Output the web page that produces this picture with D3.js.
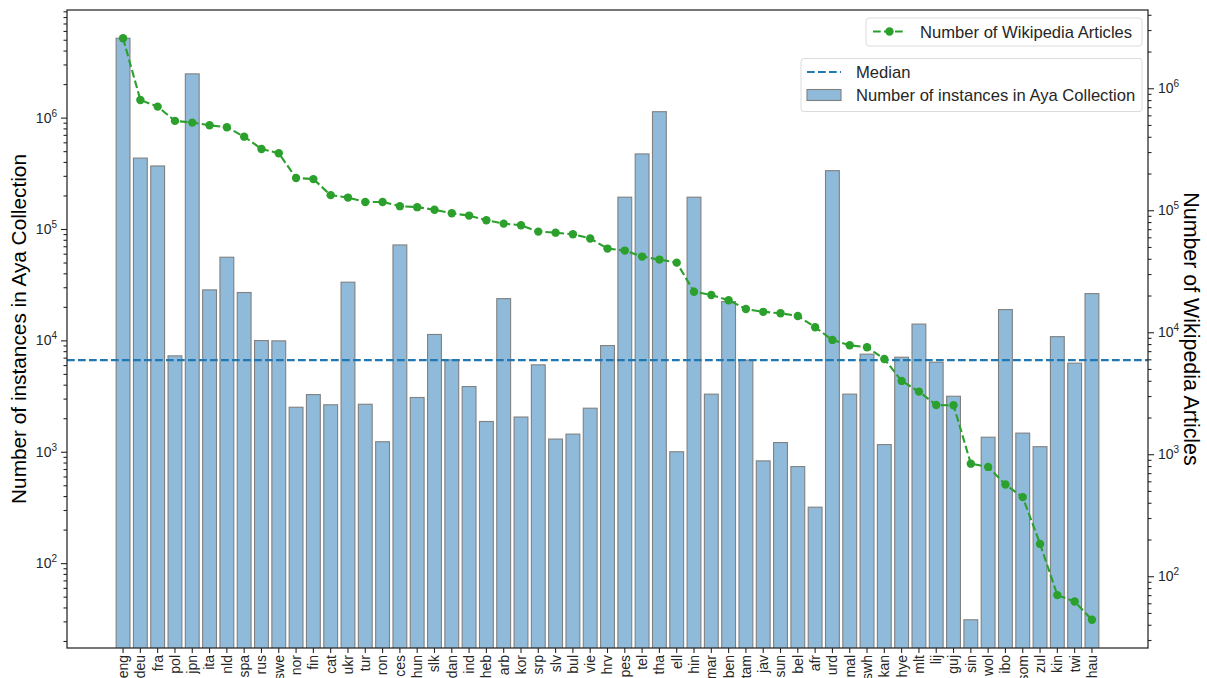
<!DOCTYPE html>
<html>
<head>
<meta charset="utf-8">
<script src="https://cdn.jsdelivr.net/npm/d3@7"></script>
<style>
  body { margin: 0; background: #fff; }
  svg { font-family: "Liberation Sans", Arial, sans-serif; }
</style>
</head>
<body>
<svg id="chart" width="1207" height="678"></svg>
<script>
// languages, in plot order
const langs = ["eng","deu","fra","pol","jpn","ita","nld","spa","rus","swe","nor","fin","cat","ukr","tur","ron",
  "ces","hun","slk","dan","ind","heb","arb","kor","srp","slv","bul","vie","hrv","pes","tel","tha","ell",
  "hin","mar","ben","tam","jav","sun","bel","afr","urd","mal","swh","kan","hye","mlt","lij","guj","sin",
  "wol","ibo","som","zul","kin","twi","hau"];

// number of instances in Aya Collection (left axis)
const ayaCounts = [5160000, 433000, 368000, 7260, 2470000, 28400, 55800, 26900, 9960, 9900, 2510, 3260, 2640, 33300, 2670, 1230,
  71900, 3070, 11300, 6680, 3850, 1870, 23700, 2050, 6030, 1300, 1440, 2460, 8980, 193000, 472000, 1130000, 1000,
  193000, 3290, 22300, 6650, 828, 1210, 736, 318, 334000, 3290, 7520, 1160, 7060, 14000, 6370, 3150, 31,
  1350, 18900, 1470, 1110, 10800, 6240, 26300];

// number of wikipedia articles (right axis)
const wikiArticles = [2570000, 802000, 707000, 540000, 523000, 497000, 479000, 401000, 318000, 293000, 184000, 180000, 133000, 127000, 117000, 117000,
  108000, 106000, 101000, 94400, 90400, 82800, 77700, 75300, 66800, 65500, 63600, 58700, 48500, 46700, 41700, 39400, 37200,
  21500, 20200, 18300, 15500, 14700, 14300, 13600, 11000, 8650, 7820, 7530, 6040, 3990, 3260, 2530, 2520, 837,
  787, 564, 445, 184, 70, 62, 44];

const majorTicks = [1e2, 1e3, 1e4, 1e5, 1e6];

const svg = d3.select("#chart");
const x0 = 67, x1 = 1148, y0 = 10, y1 = 648;
const step = (x1 - x0) / 62.48;

const x = d3.scaleBand()
  .domain(langs)
  .range([x0 + 2.74 * step, x0 + 2.74 * step + 57 * step])
  .paddingInner(0.2)
  .paddingOuter(0.1);

const yL = d3.scaleLog().domain([17.3, 9.25e6]).range([y1, y0]);
const yR = d3.scaleLog().domain([25.8, 4.38e6]).range([y1, y0]);

function minors(scale) {
  let [a, b] = scale.domain();
  let out = [];
  for (let e = Math.floor(Math.log10(a)); e <= Math.ceil(Math.log10(b)); e++) {
    for (let m = 2; m <= 9; m++) {
      let v = m * Math.pow(10, e);
      if (v >= a && v <= b) out.push(v);
    }
  }
  return out;
}

svg.append("clipPath").attr("id", "plot")
  .append("rect").attr("x", x0).attr("y", y0).attr("width", x1 - x0).attr("height", y1 - y0);

const plot = svg.append("g").attr("clip-path", "url(#plot)");

// bars
plot.append("g").selectAll("rect")
  .data(langs)
  .enter().append("rect")
    .attr("x", d => x(d))
    .attr("width", x.bandwidth())
    .attr("y", (d, i) => yL(ayaCounts[i]))
    .attr("height", (d, i) => y1 + 5 - yL(ayaCounts[i]))
    .attr("fill", "#8fbad9")
    .attr("stroke", "#808080")
    .attr("stroke-width", 1.1);

// median line
const med = d3.median(ayaCounts);
plot.append("line")
  .attr("x1", x0).attr("x2", x1)
  .attr("y1", yL(med)).attr("y2", yL(med))
  .attr("stroke", "#1f77b4")
  .attr("stroke-width", 2.1)
  .attr("stroke-dasharray", "7.7,3.3");

// wikipedia line
const line = d3.line()
  .x((d, i) => x(langs[i]) + x.bandwidth() / 2)
  .y(d => yR(d));

plot.append("path")
  .datum(wikiArticles)
  .attr("d", line)
  .attr("fill", "none")
  .attr("stroke", "#2ca02c")
  .attr("stroke-width", 2.1)
  .attr("stroke-dasharray", "7.7,3.3");

plot.append("g").selectAll("circle")
  .data(wikiArticles)
  .enter().append("circle")
    .attr("cx", (d, i) => x(langs[i]) + x.bandwidth() / 2)
    .attr("cy", d => yR(d))
    .attr("r", 4.2)
    .attr("fill", "#2ca02c");

// axes
function powerLabels(sel) {
  sel.selectAll(".tick text").each(function(d) {
    let t = d3.select(this);
    let e = Math.round(Math.log10(d));
    t.text("");
    t.append("tspan").text("10");
    t.append("tspan").attr("dy", "-0.6em").attr("font-size", "10px").text(e);
  });
}

function styleAxis(g, size) {
  g.attr("font-family", null).attr("font-size", size || 14);
  g.select(".domain").remove();
  g.selectAll("line").attr("stroke", "#262626").attr("stroke-width", 1.1);
  g.selectAll("text").attr("fill", "#262626");
}

svg.append("g")
  .attr("transform", "translate(" + x0 + ",0)")
  .call(d3.axisLeft(yL).tickValues(minors(yL)).tickSize(3.5).tickFormat(""))
  .call(styleAxis);

svg.append("g")
  .attr("transform", "translate(" + x0 + ",0)")
  .call(d3.axisLeft(yL).tickValues(majorTicks).tickSize(6).tickPadding(4))
  .call(powerLabels)
  .call(styleAxis, 14);

svg.append("g")
  .attr("transform", "translate(" + x1 + ",0)")
  .call(d3.axisRight(yR).tickValues(minors(yR)).tickSize(3.5).tickFormat(""))
  .call(styleAxis);

svg.append("g")
  .attr("transform", "translate(" + x1 + ",0)")
  .call(d3.axisRight(yR).tickValues(majorTicks).tickSize(6).tickPadding(4))
  .call(powerLabels)
  .call(styleAxis, 14);

svg.append("g")
  .attr("transform", "translate(0," + y1 + ")")
  .call(d3.axisBottom(x).tickSize(5))
  .call(styleAxis, 14)
  .selectAll("text")
    .attr("transform", "rotate(-90)")
    .attr("text-anchor", "end")
    .attr("x", -7)
    .attr("y", 0)
    .attr("dy", "0.35em");

// frame
svg.append("rect")
  .attr("x", x0).attr("y", y0)
  .attr("width", x1 - x0).attr("height", y1 - y0)
  .attr("fill", "none")
  .attr("stroke", "#262626")
  .attr("stroke-width", 1.25);

// axis titles
svg.append("text")
  .attr("transform", "translate(26," + (y0 + y1) / 2 + ") rotate(-90)")
  .attr("text-anchor", "middle")
  .attr("font-size", "20.8px")
  .attr("fill", "#000")
  .text("Number of instances in Aya Collection");

svg.append("text")
  .attr("transform", "translate(1184," + (y0 + y1) / 2 + ") rotate(90)")
  .attr("text-anchor", "middle")
  .attr("font-size", "21.4px")
  .attr("fill", "#000")
  .text("Number of Wikipedia Articles");

// legends
const lg1 = svg.append("g");
lg1.append("rect")
  .attr("x", 866).attr("y", 18).attr("width", 276).attr("height", 28).attr("rx", 3)
  .attr("fill", "#fff").attr("fill-opacity", 0.8).attr("stroke", "#dcdcdc");
lg1.append("line")
  .attr("x1", 873).attr("x2", 906).attr("y1", 31.5).attr("y2", 31.5)
  .attr("stroke", "#2ca02c").attr("stroke-width", 2.1).attr("stroke-dasharray", "7.7,3.3");
lg1.append("circle").attr("cx", 889.5).attr("cy", 31.5).attr("r", 4.2).attr("fill", "#2ca02c");
lg1.append("text").attr("x", 920).attr("y", 37.5).attr("font-size", "16.6px").attr("fill", "#262626")
  .text("Number of Wikipedia Articles");

const lg2 = svg.append("g");
lg2.append("rect")
  .attr("x", 801).attr("y", 58.5).attr("width", 341).attr("height", 53).attr("rx", 3)
  .attr("fill", "#fff").attr("fill-opacity", 0.8).attr("stroke", "#dcdcdc");
lg2.append("line")
  .attr("x1", 807).attr("x2", 841).attr("y1", 72).attr("y2", 72)
  .attr("stroke", "#1f77b4").attr("stroke-width", 2.1).attr("stroke-dasharray", "7.7,3.3");
lg2.append("text").attr("x", 856).attr("y", 78).attr("font-size", "16.6px").attr("fill", "#262626")
  .text("Median");
lg2.append("rect")
  .attr("x", 807).attr("y", 89.5).attr("width", 34).attr("height", 11)
  .attr("fill", "#8fbad9").attr("stroke", "#808080").attr("stroke-width", 1.1);
lg2.append("text").attr("x", 856).attr("y", 101).attr("font-size", "16.6px").attr("fill", "#262626")
  .text("Number of instances in Aya Collection");
</script>
</body>
</html>
